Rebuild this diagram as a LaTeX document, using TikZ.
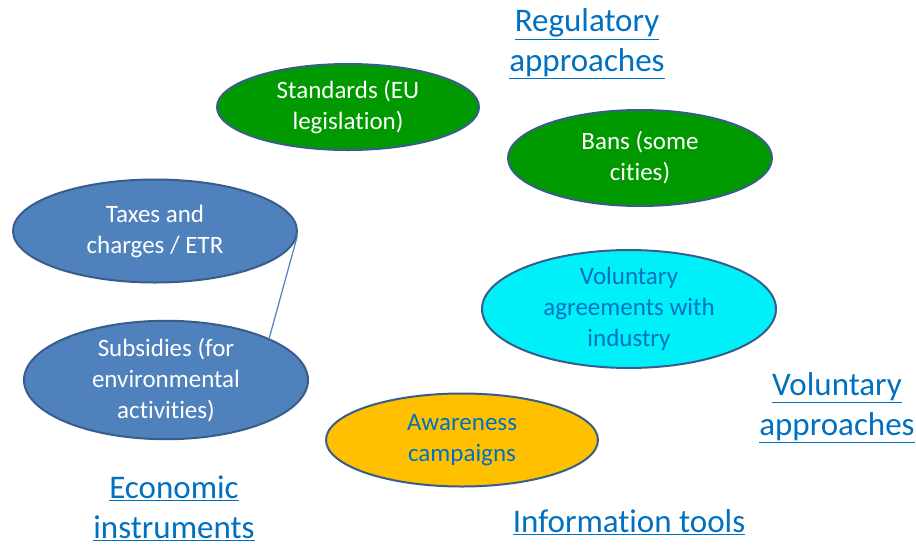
\documentclass[tikz,border=0pt]{standalone}
\usepackage{fontspec}
\setmainfont{Carlito}[Ligatures=NoCommon]
\usetikzlibrary{shapes.geometric}

\definecolor{regGreen}{RGB}{0,153,0}
\definecolor{ecoBlue}{RGB}{79,129,189}
\definecolor{rimBlue}{RGB}{56,93,138}
\definecolor{volCyan}{RGB}{0,240,250}
\definecolor{infoOrange}{RGB}{255,192,0}
\definecolor{headBlue}{RGB}{0,112,192}

\begin{document}
\begin{tikzpicture}[x=1pt,y=-1pt,
		tool/.style={ellipse,draw=rimBlue,line width=2pt,inner sep=0pt,align=center,
			font=\fontsize{25}{31}\selectfont},
		heading/.style={align=center,text=headBlue,font=\fontsize{33}{40}\selectfont}]
		
		\useasboundingbox (0,0) rectangle (916,547);
		
		% Regulatory approaches
		\node[tool,fill=regGreen,text=white,minimum width=262pt,minimum height=86pt] (standards) at (348,107) {Standards (EU\\legislation)};
		\node[tool,fill=regGreen,text=white,minimum width=264pt,minimum height=96pt] (bans) at (640,158) {Bans (some\\cities)};
		
		% Economic instruments
		\node[tool,fill=ecoBlue,text=white,minimum width=284pt,minimum height=103pt] (taxes) at (155,231) {Taxes and\\charges / ETR};
		\node[tool,fill=ecoBlue,text=white,minimum width=284pt,minimum height=106pt] (subsidies) at (166,380) {Subsidies (for\\environmental\\activities)};
		
		%% Link
		\draw[ecoBlue,line width=1.2pt] (taxes.-2) -- (subsidies.22);
		
		% Voluntary approaches
		\node[tool,fill=volCyan,text=headBlue,minimum width=294pt,minimum height=95pt] (agreements) at (629,309) {Voluntary\\agreements with\\industry};
		
		% Information tools
		\node[tool,fill=infoOrange,text=headBlue,minimum width=272pt,minimum height=93pt] (awareness) at (462,440) {Awareness\\campaigns};
		
		% Headings
		\node[heading] (regulatory) at (587,44) {\underline{Regulatory}\\\underline{approaches}};
		\node[heading] (voluntary) at (837,408) {\underline{Voluntary}\\\underline{approaches}};
		\node[heading] (economic) at (174,508) {\underline{Economic}\\\underline{instruments}};
		\node[heading] (information) at (629,522) {\underline{Information tools}};
		
	\end{tikzpicture}
\end{document}
